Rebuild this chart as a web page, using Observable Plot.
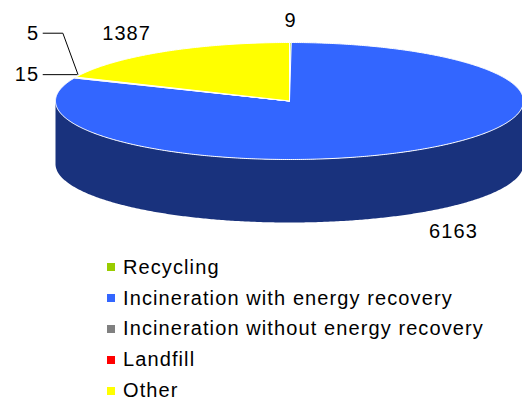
<!DOCTYPE html>
<html>
<head>
<meta charset="utf-8">
<script src="https://cdn.jsdelivr.net/npm/d3@7"></script>
<script src="https://cdn.jsdelivr.net/npm/@observablehq/plot@0.6"></script>
<style>
  html, body { margin: 0; padding: 0; background: #fff; overflow: hidden; width: 522px; height: 403px; }
  #chart svg { display: block; }
  #legend { font-family: "Liberation Sans", Arial, sans-serif; font-size: 20px; letter-spacing: 1.1px; color: #000; }
  #legend .row { display: flex; align-items: center; height: 30.8px; padding-left: 107px; white-space: nowrap; }
  #legend .sw { width: 8px; height: 8px; margin-right: 8px; flex: none; }
</style>
</head>
<body>
<div id="chart"></div>
<div id="legend"></div>
<script>
// ---- data ----
const categories = ["Recycling", "Incineration with energy recovery", "Incineration without energy recovery", "Landfill", "Other"];
const values = [9, 6163, 15, 5, 1387];
const colors = ["#99cc00", "#3366ff", "#808080", "#ff0000", "#ffff00"];

// ---- geometry (layout) ----
const W = 522, H = 252;
const depth = 1.077;           // side height in y-units
const pxX = 1 / 234, pxY = 1 / 58.5;
const step = Math.PI / 360;

const sideKeys = categories.map(c => c + " (side)");
const sideColors = colors.map(c => d3.color(c).darker(2).formatHex());

const arcs = d3.pie().sort(null).value(d => d.value)(categories.map((c, i) => ({category: c, value: values[i]})));

function arcPts(a0, a1) {
  const pts = [];
  const n = Math.max(1, Math.ceil((a1 - a0) / step));
  for (let j = 0; j <= n; j++) {
    const a = a0 + (a1 - a0) * j / n;
    pts.push([Math.sin(a), Math.cos(a)]);
  }
  return pts;
}

// top slices
const topFace = [];
arcs.forEach((a, i) => {
  const key = categories[i];
  topFace.push({key, x: 0, y: 0});
  for (const [x, y] of arcPts(a.startAngle, a.endAngle)) topFace.push({key, x, y});
  topFace.push({key, x: 0, y: 0});
});

// side (front half only)
const sideFace = [];
arcs.forEach((a, i) => {
  const s = Math.max(a.startAngle, Math.PI / 2), e = Math.min(a.endAngle, 3 * Math.PI / 2);
  if (e <= s) return;
  const key = sideKeys[i];
  const p = arcPts(s, e);
  for (const [x, y] of p) sideFace.push({key, x, y});
  for (const [x, y] of p.slice().reverse()) sideFace.push({key, x, y: y - depth});
});

// labels
const mids = arcs.map(a => (a.startAngle + a.endAngle) / 2);
const clustered = mids.map((m, i) =>
  mids.some((o, j) => j !== i && Math.abs(o - m) < 5 * Math.PI / 180));
const labels = [], leaders = [];
let k = 0;
arcs.forEach((a, i) => {
  const m = mids[i];
  if (!clustered[i]) {
    labels.push({
      text: String(values[i]),
      x: 1.28 * Math.sin(m),
      y: 1.38 * Math.cos(m) - (Math.cos(m) < 0 ? depth : 0),
      anchor: "middle"
    });
  } else {
    const ax = Math.sin(m) * 0.99, ay = Math.cos(m) + 3 * pxY;
    const ex = ax - k * 15 * pxX, ey = ay + k * 41 * pxY;
    const tx = -1.07;
    const id = "L" + i;
    leaders.push({id, x: ax, y: ay}, {id, x: ex, y: ey}, {id, x: tx + 4 * pxX, y: ey});
    labels.push({text: String(values[i]), x: tx, y: ey, anchor: "end"});
    k++;
  }
});

const plot = Plot.plot({
  width: W,
  height: H,
  margin: 0,
  x: {domain: [-1, 1], range: [55, 523], axis: null},
  y: {domain: [1, -2.1], range: [42, 42 + 3.1 * 58.5], axis: null},
  color: {domain: [...categories, ...sideKeys], range: [...colors, ...sideColors]},
  style: {fontFamily: "'Liberation Sans', Arial, sans-serif", fontSize: "20px", letterSpacing: "1.1px", background: "#fff", overflow: "visible"},
  marks: [
    Plot.line(sideFace, {x: "x", y: "y", z: "key", fill: "key", stroke: null}),
    Plot.line(topFace, {x: "x", y: "y", z: "key", fill: "key", stroke: "white", strokeWidth: 1}),
    Plot.line(leaders, {x: "x", y: "y", z: "id", stroke: "black", strokeWidth: 1}),
    Plot.text(labels.filter(d => d.anchor === "middle"), {x: "x", y: "y", text: "text", fontSize: 20, fill: "black", textAnchor: "middle"}),
    Plot.text(labels.filter(d => d.anchor === "end"), {x: "x", y: "y", text: "text", fontSize: 20, fill: "black", textAnchor: "end"})
  ]
});
document.getElementById("chart").appendChild(plot);

// legend
const legend = document.getElementById("legend");
categories.forEach((c, i) => {
  const row = document.createElement("div");
  row.className = "row";
  const sw = document.createElement("span");
  sw.className = "sw";
  sw.style.background = colors[i];
  const t = document.createElement("span");
  t.textContent = c;
  row.appendChild(sw);
  row.appendChild(t);
  legend.appendChild(row);
});
</script>
</body>
</html>
